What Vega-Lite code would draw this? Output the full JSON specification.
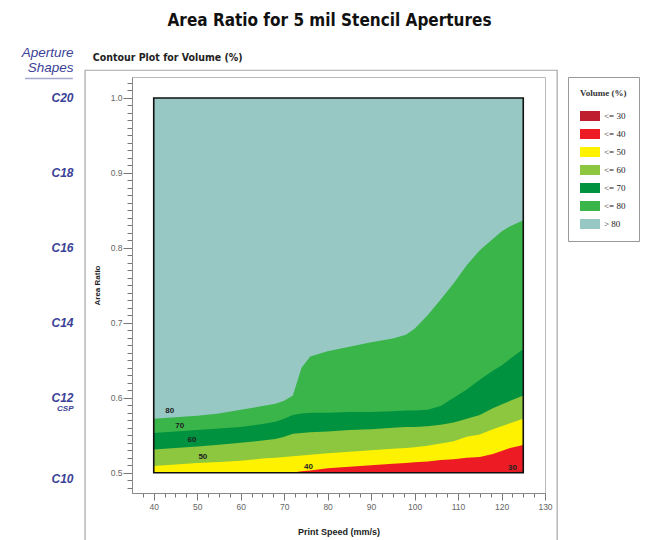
{
  "$schema": "https://vega.github.io/schema/vega-lite/v6.json",
  "width": 413,
  "height": 416,
  "autosize": {"type": "none"},
  "padding": {"left": 132, "top": 77, "right": 104, "bottom": 47},
  "background": "white",
  "title": {
    "text": "Area Ratio for 5 mil Stencil Apertures",
    "anchor": "middle",
    "frame": "group",
    "font": "Liberation Sans Narrow, DejaVu Sans Condensed, sans-serif",
    "fontSize": 17,
    "fontWeight": "bold",
    "color": "#111111",
    "dx": -9,
    "offset": 15
  },
  "datasets": {
    "contours": [
      {"speed": 40, "b30": 0.5, "b40": 0.5, "b50": 0.509, "b60": 0.531, "b70": 0.553, "b80": 0.572},
      {"speed": 45, "b30": 0.5, "b40": 0.5, "b50": 0.511, "b60": 0.533, "b70": 0.555, "b80": 0.574},
      {"speed": 50, "b30": 0.5, "b40": 0.5, "b50": 0.513, "b60": 0.535, "b70": 0.557, "b80": 0.576},
      {"speed": 55, "b30": 0.5, "b40": 0.5, "b50": 0.5145, "b60": 0.5375, "b70": 0.559, "b80": 0.579},
      {"speed": 60, "b30": 0.5, "b40": 0.5, "b50": 0.516, "b60": 0.54, "b70": 0.561, "b80": 0.584},
      {"speed": 65, "b30": 0.5, "b40": 0.5, "b50": 0.519, "b60": 0.543, "b70": 0.565, "b80": 0.589},
      {"speed": 68, "b30": 0.5, "b40": 0.5, "b50": 0.52, "b60": 0.545, "b70": 0.568, "b80": 0.592},
      {"speed": 70, "b30": 0.5, "b40": 0.5, "b50": 0.521, "b60": 0.548, "b70": 0.572, "b80": 0.596},
      {"speed": 72, "b30": 0.5, "b40": 0.5005, "b50": 0.522, "b60": 0.552, "b70": 0.577, "b80": 0.603},
      {"speed": 74, "b30": 0.5, "b40": 0.502, "b50": 0.523, "b60": 0.553, "b70": 0.579, "b80": 0.64},
      {"speed": 76, "b30": 0.5, "b40": 0.503, "b50": 0.524, "b60": 0.554, "b70": 0.58, "b80": 0.655},
      {"speed": 80, "b30": 0.5, "b40": 0.506, "b50": 0.526, "b60": 0.555, "b70": 0.58, "b80": 0.662},
      {"speed": 85, "b30": 0.5, "b40": 0.508, "b50": 0.528, "b60": 0.557, "b70": 0.581, "b80": 0.668},
      {"speed": 90, "b30": 0.5, "b40": 0.51, "b50": 0.53, "b60": 0.558, "b70": 0.581, "b80": 0.674},
      {"speed": 95, "b30": 0.5, "b40": 0.512, "b50": 0.532, "b60": 0.56, "b70": 0.582, "b80": 0.679},
      {"speed": 98, "b30": 0.5, "b40": 0.513, "b50": 0.533, "b60": 0.561, "b70": 0.583, "b80": 0.684},
      {"speed": 100, "b30": 0.5, "b40": 0.514, "b50": 0.534, "b60": 0.561, "b70": 0.583, "b80": 0.692},
      {"speed": 103, "b30": 0.5, "b40": 0.515, "b50": 0.536, "b60": 0.562, "b70": 0.584, "b80": 0.71},
      {"speed": 106, "b30": 0.5, "b40": 0.517, "b50": 0.539, "b60": 0.564, "b70": 0.589, "b80": 0.731},
      {"speed": 109, "b30": 0.5, "b40": 0.518, "b50": 0.542, "b60": 0.567, "b70": 0.6, "b80": 0.753},
      {"speed": 112, "b30": 0.5, "b40": 0.52, "b50": 0.548, "b60": 0.572, "b70": 0.611, "b80": 0.777},
      {"speed": 115, "b30": 0.5, "b40": 0.521, "b50": 0.551, "b60": 0.577, "b70": 0.624, "b80": 0.797},
      {"speed": 118, "b30": 0.5, "b40": 0.525, "b50": 0.558, "b60": 0.586, "b70": 0.636, "b80": 0.812},
      {"speed": 120, "b30": 0.5005, "b40": 0.529, "b50": 0.562, "b60": 0.591, "b70": 0.643, "b80": 0.822},
      {"speed": 122, "b30": 0.501, "b40": 0.533, "b50": 0.566, "b60": 0.596, "b70": 0.652, "b80": 0.829},
      {"speed": 125, "b30": 0.502, "b40": 0.537, "b50": 0.572, "b60": 0.603, "b70": 0.665, "b80": 0.837}
    ],
    "labels": [
      {"speed": 43.7, "ratio": 0.583, "label": "80"},
      {"speed": 46.0, "ratio": 0.563, "label": "70"},
      {"speed": 48.8, "ratio": 0.544, "label": "60"},
      {"speed": 51.3, "ratio": 0.521, "label": "50"},
      {"speed": 75.6, "ratio": 0.508, "label": "40"},
      {"speed": 122.5, "ratio": 0.507, "label": "30"}
    ],
    "one": [{}]
  },
  "layer": [
    {
      "data": {"name": "contours"},
      "mark": {"type": "area", "opacity": 1, "interpolate": "linear"},
      "encoding": {
        "x": {"field": "speed", "type": "quantitative", "scale": {"domain": [35, 130], "nice": false, "zero": false},
          "axis": {
            "title": "Print Speed (mm/s)",
            "values": [37.5, 40, 42.5, 45, 47.5, 50, 52.5, 55, 57.5, 60, 62.5, 65, 67.5, 70, 72.5, 75, 77.5, 80, 82.5, 85, 87.5, 90, 92.5, 95, 97.5, 100, 102.5, 105, 107.5, 110, 112.5, 115, 117.5, 120, 122.5, 125, 127.5, 130],
            "labelExpr": "abs(datum.value / 10 - round(datum.value / 10)) < 0.001 ? format(datum.value, 'd') : ''",
            "tickSize": {"condition": {"test": "abs(datum.value / 10 - round(datum.value / 10)) < 0.001", "value": 7}, "value": 4},
            "labelOverlap": false,
            "labelFlush": false,
            "grid": false,
            "domainColor": "#888888",
            "tickColor": "#777777",
            "labelColor": "#666666",
            "labelFont": "Liberation Sans",
            "labelFontSize": 8.5,
            "labelPadding": 2,
            "titleFont": "Liberation Sans",
            "titleFontSize": 9,
            "titleFontWeight": "bold",
            "titleColor": "#222222",
            "titlePadding": 17
          }},
        "y": {"datum": 1.0, "type": "quantitative", "scale": {"domain": [0.473, 1.028], "nice": false, "zero": false}, "axis": null},
        "y2": {"datum": 0.5},
        "color": {"datum": "> 80", "type": "nominal",
          "scale": {"domain": ["<= 30", "<= 40", "<= 50", "<= 60", "<= 70", "<= 80", "> 80"],
            "range": ["#be1e2d", "#ed1c24", "#fff200", "#8dc63f", "#00923f", "#3ab54a", "#97c8c4"]},
          "legend": {
            "title": "Volume (%)",
            "orient": "right",
            "offset": 23,
            "padding": 12,
            "strokeColor": "#999999",
            "fillColor": "white",
            "titleFont": "Liberation Serif",
            "titleFontSize": 9,
            "titleFontWeight": "bold",
            "titleColor": "#333333",
            "titlePadding": 13,
            "labelFont": "Liberation Serif",
            "labelFontSize": 9,
            "labelColor": "#222222",
            "symbolType": "M-1,-1H3V1H-1Z",
            "symbolSize": 100,
            "symbolStrokeWidth": 0,
            "symbolOpacity": 1,
            "rowPadding": 8,
            "labelOffset": 14
          }}
      }
    },
    {
      "data": {"name": "contours"},
      "mark": {"type": "area", "opacity": 1, "interpolate": "linear"},
      "encoding": {
        "x": {"field": "speed", "type": "quantitative", "scale": {"domain": [35, 130], "nice": false, "zero": false}, "axis": null},
        "y": {"field": "b80", "type": "quantitative", "scale": {"domain": [0.473, 1.028], "nice": false, "zero": false},
          "axis": {
            "title": "Area Ratio",
            "values": [0.48, 0.49, 0.5, 0.51, 0.52, 0.53, 0.54, 0.55, 0.56, 0.57, 0.58, 0.59, 0.6, 0.61, 0.62, 0.63, 0.64, 0.65, 0.66, 0.67, 0.68, 0.69, 0.7, 0.71, 0.72, 0.73, 0.74, 0.75, 0.76, 0.77, 0.78, 0.79, 0.8, 0.81, 0.82, 0.83, 0.84, 0.85, 0.86, 0.87, 0.88, 0.89, 0.9, 0.91, 0.92, 0.93, 0.94, 0.95, 0.96, 0.97, 0.98, 0.99, 1.0, 1.01, 1.02],
            "labelExpr": "abs(datum.value * 10 - round(datum.value * 10)) < 0.01 ? format(datum.value, '.1f') : ''",
            "tickSize": {"condition": {"test": "abs(datum.value * 10 - round(datum.value * 10)) < 0.01", "value": 9}, "value": 5},
            "labelOverlap": false,
            "labelFlush": false,
            "grid": false,
            "domainColor": "#888888",
            "tickColor": "#777777",
            "labelColor": "#666666",
            "labelFont": "Liberation Sans",
            "labelFontSize": 8.5,
            "labelPadding": 1,
            "titleFont": "Liberation Sans",
            "titleFontSize": 8,
            "titleFontWeight": "bold",
            "titleColor": "#222222",
            "titlePadding": 9
          }},
        "y2": {"datum": 0.5},
        "color": {"datum": "<= 80", "type": "nominal"}
      }
    },
    {
      "data": {"name": "contours"},
      "mark": {"type": "area", "opacity": 1, "interpolate": "linear"},
      "encoding": {
        "x": {"field": "speed", "type": "quantitative", "scale": {"domain": [35, 130], "nice": false, "zero": false}, "axis": null},
        "y": {"field": "b70", "type": "quantitative", "scale": {"domain": [0.473, 1.028], "nice": false, "zero": false}, "axis": null},
        "y2": {"datum": 0.5},
        "color": {"datum": "<= 70", "type": "nominal"}
      }
    },
    {
      "data": {"name": "contours"},
      "mark": {"type": "area", "opacity": 1, "interpolate": "linear"},
      "encoding": {
        "x": {"field": "speed", "type": "quantitative", "scale": {"domain": [35, 130], "nice": false, "zero": false}, "axis": null},
        "y": {"field": "b60", "type": "quantitative", "scale": {"domain": [0.473, 1.028], "nice": false, "zero": false}, "axis": null},
        "y2": {"datum": 0.5},
        "color": {"datum": "<= 60", "type": "nominal"}
      }
    },
    {
      "data": {"name": "contours"},
      "mark": {"type": "area", "opacity": 1, "interpolate": "linear"},
      "encoding": {
        "x": {"field": "speed", "type": "quantitative", "scale": {"domain": [35, 130], "nice": false, "zero": false}, "axis": null},
        "y": {"field": "b50", "type": "quantitative", "scale": {"domain": [0.473, 1.028], "nice": false, "zero": false}, "axis": null},
        "y2": {"datum": 0.5},
        "color": {"datum": "<= 50", "type": "nominal"}
      }
    },
    {
      "data": {"name": "contours"},
      "mark": {"type": "area", "opacity": 1, "interpolate": "linear"},
      "encoding": {
        "x": {"field": "speed", "type": "quantitative", "scale": {"domain": [35, 130], "nice": false, "zero": false}, "axis": null},
        "y": {"field": "b40", "type": "quantitative", "scale": {"domain": [0.473, 1.028], "nice": false, "zero": false}, "axis": null},
        "y2": {"datum": 0.5},
        "color": {"datum": "<= 40", "type": "nominal"}
      }
    },
    {
      "data": {"name": "contours"},
      "mark": {"type": "area", "opacity": 1, "interpolate": "linear"},
      "encoding": {
        "x": {"field": "speed", "type": "quantitative", "scale": {"domain": [35, 130], "nice": false, "zero": false}, "axis": null},
        "y": {"field": "b30", "type": "quantitative", "scale": {"domain": [0.473, 1.028], "nice": false, "zero": false}, "axis": null},
        "y2": {"datum": 0.5},
        "color": {"datum": "<= 30", "type": "nominal"}
      }
    },
    {
      "data": {"name": "one"},
      "mark": {"type": "rect", "fill": null, "fillOpacity": 0, "stroke": "#111111", "strokeWidth": 1.6},
      "encoding": {
        "x": {"datum": 40, "type": "quantitative", "axis": null},
        "x2": {"datum": 125},
        "y": {"datum": 0.5, "type": "quantitative", "axis": null},
        "y2": {"datum": 1.0}
      }
    },
    {
      "data": {"name": "labels"},
      "mark": {"type": "text", "font": "Liberation Sans", "fontSize": 8, "fontWeight": "bold", "color": "#222222"},
      "encoding": {
        "x": {"field": "speed", "type": "quantitative", "axis": null},
        "y": {"field": "ratio", "type": "quantitative", "scale": {"domain": [0.473, 1.028], "nice": false, "zero": false},
          "axis": {
            "orient": "left",
            "offset": 59,
            "values": [0.493, 0.586, 0.6, 0.7, 0.8, 0.9, 1.0],
            "labelExpr": "datum.value > 0.95 ? 'C20' : datum.value > 0.85 ? 'C18' : datum.value > 0.75 ? 'C16' : datum.value > 0.65 ? 'C14' : datum.value > 0.595 ? 'C12' : datum.value > 0.55 ? 'CSP' : 'C10'",
            "ticks": false,
            "domain": false,
            "grid": false,
            "labelOverlap": false,
            "labelFlush": false,
            "labelPadding": 0,
            "labelAlign": "right",
            "labelBaseline": "middle",
            "labelColor": "#3b4197",
            "labelFont": "Liberation Sans",
            "labelFontStyle": "italic",
            "labelFontWeight": "bold",
            "labelFontSize": {"condition": {"test": "datum.value > 0.55 && datum.value < 0.595", "value": 8}, "value": 12},
            "title": ["Aperture", "Shapes"],
            "titleAngle": 0,
            "titleAlign": "right",
            "titleBaseline": "top",
            "titleX": 0,
            "titleY": -32,
            "titleColor": "#3b4197",
            "titleFont": "Liberation Sans",
            "titleFontStyle": "italic",
            "titleFontWeight": "normal",
            "titleFontSize": 13.5,
            "titleLineHeight": 15
          }},
        "text": {"field": "label", "type": "nominal"}
      }
    },
    {
      "data": {"name": "one"},
      "mark": {"type": "rect", "fill": null, "fillOpacity": 0, "stroke": "#a8a8a8", "strokeWidth": 1.2},
      "encoding": {
        "x": {"datum": 24.2, "type": "quantitative", "axis": null},
        "x2": {"datum": 132.8},
        "y": {"datum": 1.037, "type": "quantitative", "axis": null},
        "y2": {"datum": 0.4}
      }
    },
    {
      "data": {"name": "one"},
      "mark": {"type": "text", "text": "Contour Plot for Volume (%)", "align": "left", "baseline": "middle", "font": "Liberation Sans Narrow, DejaVu Sans Condensed, sans-serif", "fontSize": 10.5, "fontWeight": "bold", "color": "#222222"},
      "encoding": {
        "x": {"datum": 26.0, "type": "quantitative", "axis": null},
        "y": {"datum": 1.053, "type": "quantitative", "axis": null}
      }
    },
    {
      "data": {"name": "one"},
      "mark": {"type": "rule", "stroke": "#a5a9cf", "strokeWidth": 1.5},
      "encoding": {
        "x": {"datum": 10.4, "type": "quantitative", "axis": null},
        "x2": {"datum": 21.4},
        "y": {"datum": 1.026, "type": "quantitative", "axis": null}
      }
    }
  ],
  "resolve": {"axis": {"x": "independent", "y": "independent"}},
  "config": {
    "view": {"stroke": "#bbbbbb", "strokeWidth": 1},
    "axis": {"domainWidth": 1, "tickWidth": 1}
  }
}
